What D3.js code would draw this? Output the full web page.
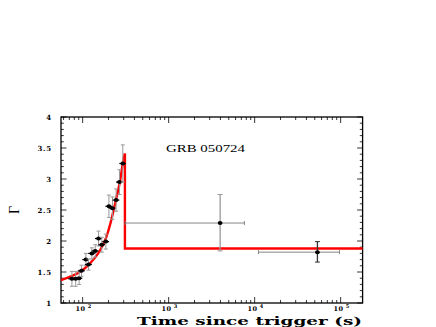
<!DOCTYPE html>
<html>
<head>
<meta charset="utf-8">
<script src="https://cdn.jsdelivr.net/npm/d3@7"></script>
<style>
  body { margin: 0; background: #fff; }
  svg { display: block; }
</style>
</head>
<body>
<div id="chart"></div>
<script>
// early-time points (time in s, photon index)
const earlyT = [75, 83, 91, 97, 109, 117, 128, 140, 153, 167, 186, 202, 222, 245, 268, 293];
const earlyG = [1.39, 1.39, 1.40, 1.52, 1.70, 1.62, 1.80, 1.84, 2.04, 1.94, 1.99, 2.56, 2.53, 2.66, 2.95, 3.25];
const earlyGErr = [0.12, 0.12, 0.10, 0.09, 0.10, 0.09, 0.09, 0.10, 0.12, 0.12, 0.12, 0.18, 0.18, 0.18, 0.20, 0.30];
const earlyTErr = [7, 8, 8, 9, 10, 11, 12, 13, 14, 15, 17, 18, 20, 22, 24, 26];

// late-time points with explicit ranges
const lateT = [3970, 53700];
const lateTLo = [312, 11070];
const lateTHi = [7600, 96900];
const lateG = [2.29, 1.82];
const lateGLo = [1.84, 1.66];
const lateGHi = [2.75, 1.99];

// model curve
const curveT = [56, 72, 93.5, 122, 160, 187, 209, 239, 273, 300, 310];
const curveG = [1.37, 1.425, 1.505, 1.64, 1.855, 2.05, 2.27, 2.61, 2.98, 3.33, 3.41];
const stepT = [310, 310, 180000];
const stepG = [3.41, 1.88, 1.88];

const yTicks = [1, 1.5, 2, 2.5, 3, 3.5, 4];
const xDecades = [100, 1000, 10000, 100000];

const W = 436, H = 327;
const pLeft = 61, pRight = 362.6, pTop = 117, pBottom = 303;

const svg = d3.select("#chart").append("svg")
  .attr("width", W).attr("height", H);

const x = d3.scaleLog().domain([56, 180000]).range([pLeft, pRight]);
const y = d3.scaleLinear().domain([1, 4]).range([pBottom, pTop]);

const serif = "'DejaVu Serif', 'Liberation Serif', serif";

// frame
svg.append("rect")
  .attr("x", pLeft).attr("y", pTop)
  .attr("width", pRight - pLeft).attr("height", pBottom - pTop)
  .attr("fill", "none").attr("stroke", "#000").attr("stroke-width", 1.3);

// y ticks, inward on both sides
const yMinor = d3.range(1, 4.001, 0.1);
yMinor.forEach(v => {
  const major = Math.abs(v * 2 - Math.round(v * 2)) < 1e-6;
  const len = major ? 5.5 : 2.8;
  svg.append("line").attr("x1", pLeft).attr("x2", pLeft + len)
    .attr("y1", y(v)).attr("y2", y(v)).attr("stroke", "#000").attr("stroke-width", 0.8);
  svg.append("line").attr("x1", pRight).attr("x2", pRight - len)
    .attr("y1", y(v)).attr("y2", y(v)).attr("stroke", "#000").attr("stroke-width", 0.8);
});

svg.selectAll(".ylab").data(yTicks).enter().append("text")
  .attr("class", "ylab")
  .attr("x", 52).attr("y", d => y(d) + 2.5)
  .attr("text-anchor", "end")
  .style("font-family", serif).style("font-weight", "bold").style("font-size", "7px")
  .style("letter-spacing", "0.8px")
  .text(d => d);

// x ticks (log), inward on bottom and top
const xMinor = [];
[10, 100, 1000, 10000, 100000].forEach(dec => {
  for (let k = 1; k <= 9; k++) {
    const v = dec * k;
    if (v >= 56 && v <= 180000) xMinor.push({ v: v, major: k === 1 });
  }
});
xMinor.forEach(d => {
  const len = d.major ? 6 : 3;
  svg.append("line").attr("x1", x(d.v)).attr("x2", x(d.v))
    .attr("y1", pBottom).attr("y2", pBottom - len).attr("stroke", "#000").attr("stroke-width", 0.8);
  svg.append("line").attr("x1", x(d.v)).attr("x2", x(d.v))
    .attr("y1", pTop).attr("y2", pTop + len).attr("stroke", "#000").attr("stroke-width", 0.8);
});

const xl = svg.selectAll(".xlab").data(xDecades).enter().append("text")
  .attr("class", "xlab")
  .attr("x", d => x(d) + 1).attr("y", 310.5)
  .attr("text-anchor", "middle")
  .style("font-family", serif).style("font-weight", "bold").style("font-size", "6.5px")
  .style("letter-spacing", "0.6px");
xl.append("tspan").text("10");
xl.append("tspan").attr("dx", 2).attr("dy", -3).style("font-size", "5px")
  .text(d => Math.round(Math.log10(d)));

// axis titles
svg.append("text")
  .attr("x", 362).attr("y", 324.5)
  .attr("text-anchor", "end")
  .attr("textLength", 225).attr("lengthAdjust", "spacingAndGlyphs")
  .style("font-family", serif).style("font-weight", "bold").style("font-size", "11.5px")
  .text("Time since trigger (s)");

svg.append("text")
  .attr("transform", "translate(19,210) rotate(-90)")
  .attr("text-anchor", "middle")
  .style("font-family", "'Liberation Serif', serif").style("font-size", "14px")
  .text("Γ");

svg.append("text")
  .attr("x", 166).attr("y", 152)
  .attr("textLength", 79).attr("lengthAdjust", "spacingAndGlyphs")
  .style("font-family", "'Liberation Serif', serif").style("font-size", "11px")
  .text("GRB 050724");

// model curve
const curvePts = curveT.map((t, i) => [t, curveG[i]]);
const stepPts = stepT.map((t, i) => [t, stepG[i]]);
svg.append("path").datum(curvePts)
  .attr("d", d3.line().x(d => x(d[0])).y(d => y(d[1])).curve(d3.curveMonotoneX))
  .attr("fill", "none").attr("stroke", "#ff0000").attr("stroke-width", 2.4);
svg.append("path").datum(stepPts)
  .attr("d", d3.line().x(d => x(d[0])).y(d => y(d[1])))
  .attr("fill", "none").attr("stroke", "#ff0000").attr("stroke-width", 2.4);

// early points
const early = earlyT.map((t, i) => ({ t: t, g: earlyG[i], ge: earlyGErr[i], te: earlyTErr[i] }));
const eg = svg.append("g");
early.forEach(d => {
  const cx = x(d.t);
  eg.append("line").attr("x1", cx).attr("x2", cx)
    .attr("y1", y(d.g - d.ge)).attr("y2", y(d.g + d.ge))
    .attr("stroke", "#999").attr("stroke-width", 1);
  [d.g - d.ge, d.g + d.ge].forEach(v => {
    eg.append("line").attr("x1", cx - 2).attr("x2", cx + 2)
      .attr("y1", y(v)).attr("y2", y(v)).attr("stroke", "#999").attr("stroke-width", 1);
  });
  eg.append("line").attr("x1", x(d.t - d.te)).attr("x2", x(d.t + d.te))
    .attr("y1", y(d.g)).attr("y2", y(d.g)).attr("stroke", "#000").attr("stroke-width", 1.2);
  eg.append("ellipse").attr("cx", cx).attr("cy", y(d.g))
    .attr("rx", 2.4).attr("ry", 2).attr("fill", "#000");
});

// late points
const late = lateT.map((t, i) => ({ t: t, lo: lateTLo[i], hi: lateTHi[i], g: lateG[i], glo: lateGLo[i], ghi: lateGHi[i] }));
late.forEach((d, i) => {
  const cx = x(d.t), cy = y(d.g);
  const vcol = i === 0 ? "#999" : "#333";
  svg.append("line").attr("x1", x(d.lo)).attr("x2", x(d.hi))
    .attr("y1", cy).attr("y2", cy).attr("stroke", "#777").attr("stroke-width", 0.9);
  [d.lo, d.hi].forEach(v => {
    svg.append("line").attr("x1", x(v)).attr("x2", x(v))
      .attr("y1", cy - 2).attr("y2", cy + 2).attr("stroke", "#777").attr("stroke-width", 0.9);
  });
  svg.append("line").attr("x1", cx).attr("x2", cx)
    .attr("y1", y(d.glo)).attr("y2", y(d.ghi)).attr("stroke", vcol).attr("stroke-width", 1.3);
  [d.glo, d.ghi].forEach(v => {
    svg.append("line").attr("x1", cx - 2.5).attr("x2", cx + 2.5)
      .attr("y1", y(v)).attr("y2", y(v)).attr("stroke", vcol).attr("stroke-width", 1);
  });
  svg.append("ellipse").attr("cx", cx).attr("cy", cy)
    .attr("rx", 2.4).attr("ry", 2).attr("fill", "#000");
});
</script>
</body>
</html>
